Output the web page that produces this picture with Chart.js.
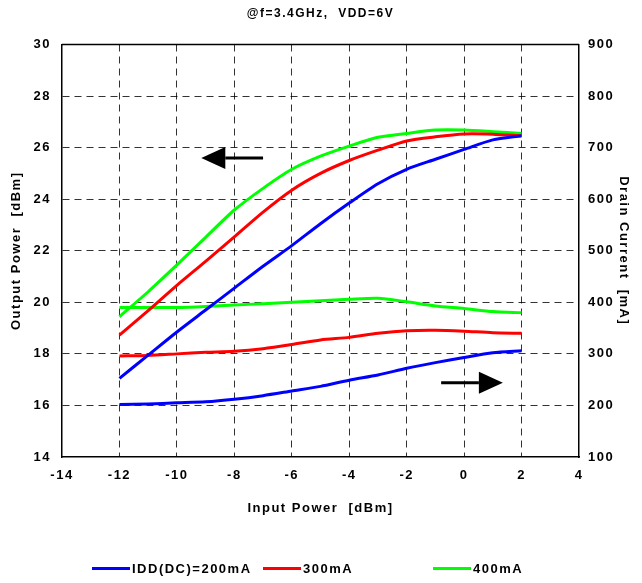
<!DOCTYPE html>
<html>
<head>
<meta charset="utf-8">
<script src="https://cdn.jsdelivr.net/npm/chart.js@4.4.1/dist/chart.umd.min.js"></script>
<style>
  body { margin: 0; background: #fff; }
  #wrap { position: relative; width: 642px; height: 583px; }
  #legend { position: absolute; left: 0; top: 559px; width: 642px; height: 18px;
            font: bold 13px "Liberation Sans", Arial, sans-serif; letter-spacing: 1.5px; color: #000; }
  .item { position: absolute; top: 0; height: 18px; display: flex; align-items: center; white-space: pre; }
  .swatch { width: 38px; height: 3px; margin-right: 2px; }
</style>
</head>
<body>
<div id="wrap">
  <canvas id="chart" width="642" height="583"></canvas>
  <div id="legend"></div>
</div>
<script>
// valeurs
const inputPower = [-12, -11, -10, -9, -8, -7, -6, -5, -4, -3, -2, -1, 0, 1, 2];

const pout200 = [17.05, 17.95, 18.85, 19.7, 20.55, 21.4, 22.2, 23.05, 23.85, 24.6, 25.16, 25.55, 25.93, 26.3, 26.46];
const pout300 = [18.73, 19.68, 20.66, 21.59, 22.54, 23.5, 24.35, 25.0, 25.5, 25.9, 26.26, 26.42, 26.53, 26.52, 26.46];
const pout400 = [19.44, 20.41, 21.45, 22.52, 23.58, 24.42, 25.16, 25.67, 26.06, 26.4, 26.55, 26.68, 26.68, 26.62, 26.55];

const idd200 = [202, 203, 205, 207, 212, 219, 228, 237, 249, 259, 272, 283, 293, 302, 306];
const idd300 = [296, 297, 300, 303, 305, 310, 318, 327, 332, 340, 345, 346, 344, 341, 340];
const idd400 = [390, 390, 390, 392, 395, 397, 400, 403, 406, 408, 401, 393, 388, 382, 380];

const chartTitle = '@f=3.4GHz,  VDD=6V';
const legendLabels = ['IDD(DC)=200mA', '300mA', '400mA'];
const colors = ['#0000ff', '#ff0000', '#00ff00'];

// flèches: de, vers, niveau, axe
const arrows = [
  { from: -7, to: -9.15, y: 25.6, axis: 'y' },
  { from: -0.8, to: 1.35, y: 244, axis: 'y2' }
];

const FONT = '"Liberation Sans", Arial, sans-serif';
const SPACING = '1.5px';

function serie(values, color, axis) {
  return {
    data: values.map((v, i) => ({ x: inputPower[i], y: v })),
    borderColor: color,
    backgroundColor: color,
    borderWidth: 3,
    pointRadius: 0,
    tension: 0.25,
    yAxisID: axis
  };
}

const gridColor = (edges) => (c) => edges.includes(c.tick.value) ? 'rgba(0,0,0,0)' : 'rgba(0,0,0,0.8)';

// espacement des lettres, cadre du haut, titre et flèches
const extras = {
  id: 'extras',
  beforeLayout(chart) { chart.ctx.letterSpacing = SPACING; },
  beforeDraw(chart) { chart.ctx.letterSpacing = SPACING; },
  afterDraw(chart) {
    const { ctx, chartArea: a, scales } = chart;
    ctx.save();
    ctx.strokeStyle = '#000';
    ctx.lineWidth = 1.5;
    ctx.beginPath();
    ctx.moveTo(a.left, a.top);
    ctx.lineTo(a.right, a.top);
    ctx.stroke();

    ctx.fillStyle = '#000';
    ctx.font = 'bold 12px ' + FONT;
    ctx.textAlign = 'center';
    ctx.textBaseline = 'middle';
    ctx.fillText(chartTitle, (a.left + a.right) / 2, 14);

    arrows.forEach(ar => {
      const x0 = scales.x.getPixelForValue(ar.from);
      const x1 = scales.x.getPixelForValue(ar.to);
      const y = scales[ar.axis].getPixelForValue(ar.y);
      const dir = Math.sign(x1 - x0);
      const head = 24, half = 11;
      ctx.lineWidth = 3;
      ctx.beginPath();
      ctx.moveTo(x0, y);
      ctx.lineTo(x1 - dir * head, y);
      ctx.stroke();
      ctx.beginPath();
      ctx.moveTo(x1, y);
      ctx.lineTo(x1 - dir * head, y - half);
      ctx.lineTo(x1 - dir * head, y + half);
      ctx.closePath();
      ctx.fill();
    });
    ctx.restore();
  }
};

const tickFont = { family: FONT, size: 13, weight: 'bold' };

new Chart(document.getElementById('chart'), {
  type: 'line',
  data: {
    datasets: [
      serie(pout200, colors[0], 'y'),
      serie(pout300, colors[1], 'y'),
      serie(pout400, colors[2], 'y'),
      serie(idd200, colors[0], 'y2'),
      serie(idd300, colors[1], 'y2'),
      serie(idd400, colors[2], 'y2')
    ]
  },
  options: {
    responsive: false,
    animation: false,
    layout: { padding: { top: 44.5 } },
    plugins: {
      legend: { display: false },
      tooltip: { enabled: false },
      title: { display: false }
    },
    scales: {
      x: {
        type: 'linear',
        min: -14, max: 4,
        ticks: { stepSize: 2, color: '#000', padding: 11, font: tickFont },
        grid: { color: gridColor([-14, 4]), lineWidth: 1, drawTicks: false },
        border: { color: '#000', width: 1.5, dash: [7, 5] },
        title: { display: true, text: 'Input Power  [dBm]', color: '#000',
                 font: tickFont, padding: { bottom: 67 } },
        afterFit: s => { s.height = 126; }
      },
      y: {
        position: 'left',
        min: 14, max: 30,
        ticks: { stepSize: 2, color: '#000', padding: 11, font: tickFont },
        grid: { color: gridColor([14, 30]), lineWidth: 1, drawTicks: false },
        border: { color: '#000', width: 1.5, dash: [7, 5] },
        title: { display: true, text: 'Output Power  [dBm]', color: '#000',
                 font: tickFont, padding: { top: 9 } },
        afterFit: s => { s.width = 62; }
      },
      y2: {
        position: 'right',
        min: 100, max: 900,
        ticks: { stepSize: 100, color: '#000', padding: 9, font: tickFont },
        grid: { display: false, drawTicks: false },
        border: { color: '#000', width: 1.5 },
        title: { display: true, text: 'Drain Current  [mA]', color: '#000',
                 font: tickFont, padding: { top: 11 } },
        afterFit: s => { s.width = 63; }
      }
    }
  },
  plugins: [extras]
});

// légende en bas
const legendLeft = [92, 263, 433];
const legend = document.getElementById('legend');
legendLabels.forEach((txt, i) => {
  const item = document.createElement('div');
  item.className = 'item';
  item.style.left = legendLeft[i] + 'px';
  item.innerHTML = '<span class="swatch" style="background:' + colors[i] + '"></span>' + txt;
  legend.appendChild(item);
});
</script>
</body>
</html>
